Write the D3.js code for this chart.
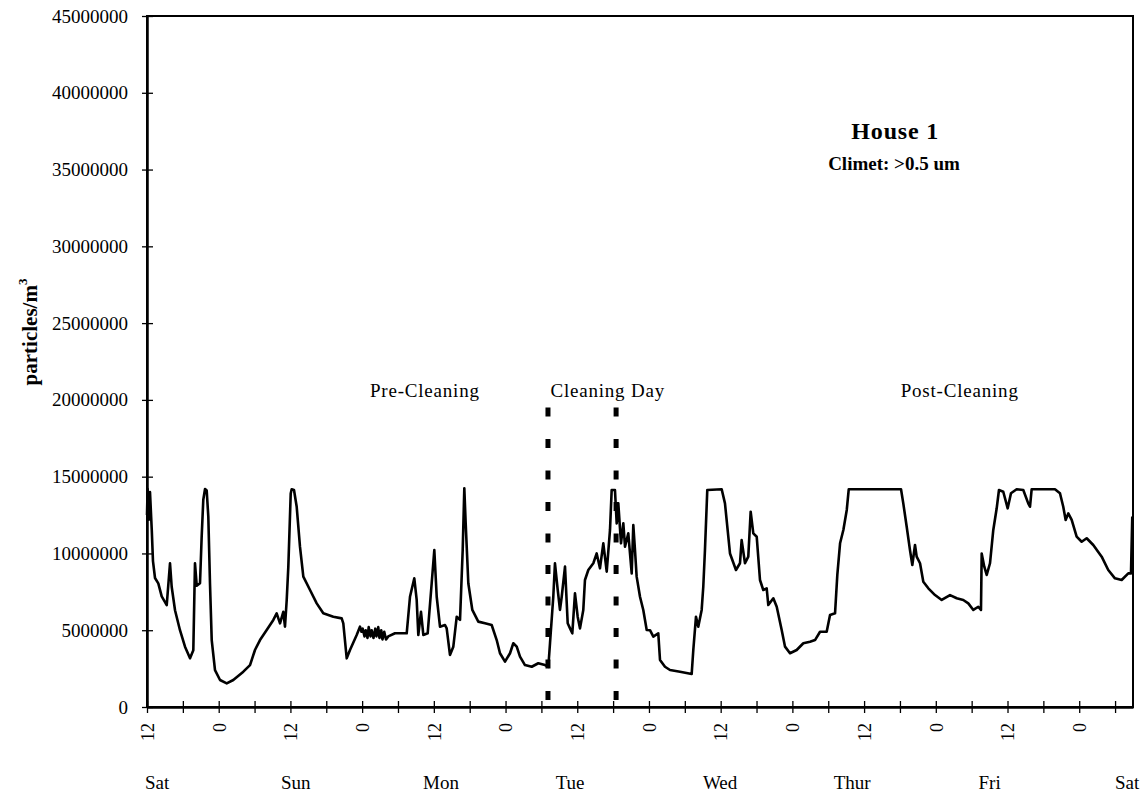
<!DOCTYPE html>
<html>
<head>
<meta charset="utf-8">
<script src="https://cdn.jsdelivr.net/npm/d3@7"></script>
<style>
  body { margin: 0; background: #fff; }
  svg text { font-family: "Liberation Serif", "Times New Roman", serif; fill: #000; }
</style>
</head>
<body>
<script>
// Hours since Saturday 12:00, and particle counts (millions per m3)
const hours = [0, 0.1, 0.3, 0.5, 0.8, 1.0, 1.34, 1.89, 2.46, 3.30, 3.85, 4.13, 4.69, 5.52, 6.36, 7.20, 7.75, 8.03, 8.32, 8.87,
  9.15, 9.42, 9.71, 9.99, 10.26, 10.54, 10.83, 11.38, 12.22, 13.34, 14.44, 16.12, 17.24, 18.07, 18.91, 20.03, 21.14, 21.70,
  22.26, 22.81, 23.09, 23.38, 23.65, 24.05, 24.21, 24.60, 25.05, 25.60, 26.16, 27.28, 28.40, 29.50, 31.18, 32.58, 32.85,
  33.42, 33.97, 35.09, 35.64, 35.9, 36.1, 36.4, 36.6, 36.9, 37.1, 37.4, 37.6, 37.9, 38.2, 38.4, 38.7, 38.9, 39.2, 39.4,
  39.7, 40.0, 40.38, 41.50, 43.46, 44.01, 44.73, 45.13, 45.40, 45.85, 46.24, 46.97, 47.64, 48.08, 48.48, 49.03, 49.87,
  50.15, 50.70, 51.26, 51.83, 52.38, 52.83, 53.10, 53.33, 53.77, 54.44, 55.44, 56.56, 57.68, 58.52, 59.07, 59.91, 60.75,
  61.30, 61.87, 62.42, 63.25, 64.38, 65.48, 66.60, 67.16, 67.44, 67.99, 68.27, 68.73, 69.11, 69.40, 69.95, 70.40, 70.79,
  71.17, 71.62, 72.07, 72.46, 73.01, 73.29, 73.85, 74.69, 75.25, 75.80, 76.36, 76.93, 77.48, 77.76, 78.31, 78.60, 78.87,
  79.32, 79.71, 79.99, 80.54, 81.11, 81.38, 81.66, 81.94, 82.50, 83.05, 83.62, 84.17, 84.73, 85.56, 85.85, 86.68, 87.52,
  89.19, 91.15, 91.42, 91.87, 92.25, 92.82, 93.09, 93.37, 93.76, 96.17, 96.72, 97.56, 98.56, 99.23, 99.51, 100.07, 100.62,
  101.02, 101.46, 102.03, 102.58, 103.13, 103.70, 103.97, 104.81, 105.38, 106.21, 106.77, 107.60, 108.72, 109.83, 110.95,
  111.79, 112.63, 113.74, 114.30, 115.14, 115.52, 115.98, 116.53, 117.10, 117.43, 126.18, 126.56, 127.13, 127.68, 128.07,
  128.52, 128.80, 129.36, 129.91, 130.75, 131.87, 132.99, 134.38, 135.50, 136.60, 137.44, 138.28, 139.11, 139.56, 139.68,
  140.11, 140.52, 141.07, 141.62, 142.19, 142.57, 143.29, 144.03, 144.58, 145.53, 146.64, 147.47, 147.76, 148.04, 151.94,
  152.78, 153.33, 153.73, 154.17, 154.74, 155.57, 156.41, 157.25, 158.35, 159.76, 160.86, 161.98, 163.10, 164.21, 164.66, 164.88];
const countsMillions = [12.5, 14.2, 12.2, 14.0, 11.5, 9.5, 8.4, 8.05, 7.2, 6.64, 9.36, 7.83, 6.3, 5.0, 3.93, 3.17, 3.7, 9.36, 7.9, 8.06,
  11.1, 13.5, 14.2, 14.1, 12.4, 8.06, 4.36, 2.4, 1.76, 1.54, 1.76, 2.3, 2.73, 3.71, 4.36, 5.01, 5.67, 6.1,
  5.45, 6.2, 5.23, 6.97, 9.14, 13.9, 14.18, 14.13, 13.04, 10.44, 8.49, 7.62, 6.75, 6.1, 5.88, 5.77, 5.45,
  3.17, 3.71, 4.69, 5.23, 4.9, 5.1, 4.6, 5.0, 4.5, 5.2, 4.6, 5.0, 4.5, 5.1, 4.6, 5.2, 4.5, 5.0, 4.4,
  4.9, 4.4, 4.6, 4.8, 4.8, 7.18, 8.38, 6.97, 4.69, 6.2, 4.69, 4.8, 8.06, 10.22, 7.18, 5.23, 5.34,
  5.12, 3.39, 3.93, 5.88, 5.67, 10.22, 14.24, 11.96, 8.06, 6.32, 5.56, 5.45, 5.34, 4.36, 3.5, 2.95, 3.5,
  4.15, 3.93, 3.28, 2.73, 2.62, 2.85, 2.73, 2.62, 4.15, 7.18, 9.36, 7.62, 6.32, 7.18, 9.14, 5.45, 5.12,
  4.8, 7.4, 5.88, 5.12, 6.32, 8.27, 8.92, 9.36, 10.0, 9.03, 10.66, 8.81, 11.53, 14.13, 14.13, 11.96, 13.26,
  10.66, 11.96, 10.44, 11.31, 8.7, 11.85, 10.22, 8.49, 7.18, 6.32, 5.01, 5.0, 4.58, 4.8, 3.06, 2.62, 2.41,
  2.3, 2.15, 3.71, 5.88, 5.23, 6.32, 7.83, 10.22, 14.13, 14.18, 13.26, 10.0, 8.92, 9.36, 10.87, 9.36, 9.79,
  12.72, 11.31, 11.09, 8.27, 7.62, 7.73, 6.64, 7.08, 6.53, 5.01, 3.93, 3.5, 3.71, 4.15, 4.25,
  4.36, 4.9, 4.9, 5.99, 6.1, 8.6, 10.66, 11.53, 12.83, 14.18, 14.18, 13.26, 11.74, 10.22, 9.25,
  10.55, 9.79, 9.36, 8.16, 7.73, 7.29, 6.97, 7.29, 7.08, 6.97, 6.75, 6.32, 6.53, 6.32, 10.0,
  9.14, 8.6, 9.36, 11.53, 12.94, 14.13, 14.02, 12.94, 13.92, 14.18, 14.13, 13.26, 13.04, 14.18, 14.18,
  13.92, 13.04, 12.18, 12.61, 12.18, 11.09, 10.76, 10.99, 10.55, 9.79, 8.92, 8.38, 8.27, 8.7, 8.7, 12.4];

const yTicks = [0, 5000000, 10000000, 15000000, 20000000, 25000000, 30000000, 35000000, 40000000, 45000000];
const xTickHours = d3.range(0, 163, 6);
const xTickLabels = ["12", "", "0", "", "12", "", "0", "", "12", "", "0", "", "12", "", "0", "", "12", "", "0", "", "12", "", "0", "", "12", "", "0", ""];
const dayNames = ["Sat", "Sun", "Mon", "Tue", "Wed", "Thur", "Fri", "Sat"];
const dayHours = [1.7, 24.9, 49.2, 70.8, 95.9, 118, 141, 164];
const cleaningStartEnd = [67.1, 78.5];

const canvWidth = 1141, canvHeight = 798;
const margin = {top: 16, right: 8, bottom: 91, left: 147};
const width = canvWidth - margin.left - margin.right;
const height = canvHeight - margin.top - margin.bottom;

const svg = d3.select("body").append("svg")
    .attr("width", canvWidth)
    .attr("height", canvHeight);

const g = svg.append("g")
    .attr("transform", "translate(" + margin.left + "," + margin.top + ")");

const xScale = d3.scaleLinear().domain([0, 165]).range([0, width]);
const yScale = d3.scaleLinear().domain([0, 45000000]).range([height, 0]);

const points = hours.map((h, i) => ({h: h, v: countsMillions[i] * 1e6}));

// frame
g.append("rect")
    .attr("x", 0).attr("y", 0)
    .attr("width", width).attr("height", height)
    .attr("fill", "none")
    .attr("stroke", "#000")
    .attr("stroke-width", 2);

// y axis
const yAxis = g.append("g")
    .call(d3.axisLeft(yScale).tickValues(yTicks).tickFormat(d3.format("d")).tickSizeInner(5).tickSizeOuter(0).tickPadding(14));
yAxis.select(".domain").attr("stroke-width", 2.5);
yAxis.selectAll(".tick line").attr("x2", 6).attr("x1", -5).attr("stroke-width", 1.3);
yAxis.selectAll("text").attr("font-size", "19px").style("font-family", "Liberation Serif");

// x axis
const xAxis = g.append("g")
    .attr("transform", "translate(0," + height + ")")
    .call(d3.axisBottom(xScale).tickValues(xTickHours).tickFormat((d, i) => xTickLabels[i]).tickSizeOuter(0));
xAxis.select(".domain").attr("stroke-width", 2.5);
xAxis.selectAll(".tick line").attr("y1", -6).attr("y2", 6).attr("stroke-width", 1.3);
xAxis.selectAll("text")
    .attr("font-size", "18px")
    .style("font-family", "Liberation Serif")
    .attr("transform", "rotate(-90)")
    .attr("y", 0)
    .attr("x", -16)
    .attr("dy", "0.35em")
    .style("text-anchor", "end");

// day names
g.selectAll(".day")
    .data(dayNames)
    .enter().append("text")
    .attr("class", "day")
    .attr("x", (d, i) => xScale(dayHours[i]))
    .attr("y", height + 82)
    .attr("font-size", "19px")
    .style("text-anchor", "middle")
    .text(d => d);

// cleaning day markers
g.selectAll(".clean")
    .data(cleaningStartEnd)
    .enter().append("line")
    .attr("x1", d => xScale(d)).attr("x2", d => xScale(d))
    .attr("y1", yScale(19500000)).attr("y2", yScale(0))
    .attr("stroke", "#000")
    .attr("stroke-width", 5)
    .attr("stroke-dasharray", "9,22.5");

// data line
const line = d3.line()
    .x(d => xScale(d.h))
    .y(d => yScale(d.v));
g.append("path")
    .datum(points)
    .attr("d", line)
    .attr("fill", "none")
    .attr("stroke", "#000")
    .attr("stroke-width", 2.6)
    .attr("stroke-linejoin", "round");

// annotations
g.append("text")
    .attr("x", xScale(46.5)).attr("y", yScale(20200000))
    .attr("font-size", "19px").style("letter-spacing", "0.8px")
    .style("text-anchor", "middle")
    .text("Pre-Cleaning");
g.append("text")
    .attr("x", xScale(77.1)).attr("y", yScale(20200000))
    .attr("font-size", "19px").style("letter-spacing", "0.8px")
    .style("text-anchor", "middle")
    .text("Cleaning Day");
g.append("text")
    .attr("x", xScale(136)).attr("y", yScale(20200000))
    .attr("font-size", "19px").style("letter-spacing", "0.8px")
    .style("text-anchor", "middle")
    .text("Post-Cleaning");

g.append("text")
    .attr("x", xScale(125.2)).attr("y", yScale(37000000))
    .attr("font-size", "24px").attr("font-weight", "bold")
    .style("letter-spacing", "0.8px")
    .style("text-anchor", "middle")
    .text("House 1");
g.append("text")
    .attr("x", xScale(125)).attr("y", yScale(35000000))
    .attr("font-size", "19px").attr("font-weight", "bold")
    .style("text-anchor", "middle")
    .text("Climet: >0.5 um");

// y axis label
const yLabel = svg.append("text")
    .attr("transform", "translate(37," + 332 + ") rotate(-90)")
    .attr("font-size", "21px")
    .attr("font-weight", "bold")
    .style("text-anchor", "middle");
yLabel.append("tspan").text("particles/m");
yLabel.append("tspan").attr("font-size", "13px").attr("dy", "-10").text("3");
</script>
</body>
</html>
